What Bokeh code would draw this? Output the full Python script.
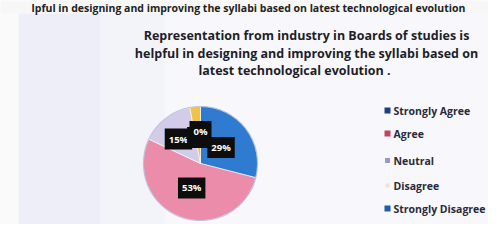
import numpy as np
from bokeh.plotting import figure
from bokeh.models import Range1d, ColumnDataSource
from bokeh.core.properties import value
from bokeh.embed import file_html
from bokeh.resources import INLINE

# ---- data ----
categories = ["Strongly Agree", "Agree", "Neutral", "Disagree", "Strongly Disagree"]
percents = [29, 53, 15, 3, 0]
pie_colors = ["#2f7bcf", "#ec8cab", "#d2cce8", "#f1c24a", "#1f5fa8"]
legend_colors = ["#1d3f86", "#c2425f", "#9c98c8", "#efe2dc", "#1f5fa8"]
title_lines = ["Representation from industry in Boards of studies is",
               "helpful in designing and improving the syllabi based on",
               "latest technological evolution ."]
top_text = "lpful in designing and improving the syllabi based on latest technological evolution"

W, H = 488, 224
p = figure(width=W, height=H, output_backend="svg", toolbar_location=None,
           x_range=Range1d(0, W), y_range=Range1d(0, H), min_border=0)
p.axis.visible = False
p.grid.visible = False
p.outline_line_color = None
p.background_fill_color = "#f8f8fc"
p.border_fill_color = "#f8f8fc"

# slide backdrop tints
p.quad(left=[0], right=[W], bottom=[H - 13], top=[H], fill_color="#f7f7f7", line_color=None)
p.quad(left=[18], right=[100], bottom=[0], top=[H - 13], fill_color="#eeeef9", line_color=None)
p.quad(left=[100], right=[165], bottom=[0], top=[H - 13], fill_color="#f3f3fa", line_color=None)
p.quad(left=[0], right=[18], bottom=[0], top=[H - 13], fill_color="#fafafa", line_color=None)

# top text from slide above (cut in the photo)
p.text(x=[248], y=[H], text=[top_text], text_font=value("Open Sans"),
       text_font_size="10.5px", text_font_style="bold", text_color="#222222",
       text_align="center", text_baseline="top")

# title
for i, line in enumerate(title_lines):
    xx = 306 if i < 2 else 294
    p.text(x=[xx], y=[H - 35 - i * 17.5], text=[line], text_font=value("Open Sans"),
           text_font_size="12.5px", text_font_style="bold", text_color="#1e1e28",
           text_align="center", text_baseline="middle")

# pie
cx, cy, R = 200, 61, 57
vals = np.array(percents, dtype=float)
frac = vals / vals.sum()
cum = np.concatenate([[0], np.cumsum(frac)])
start = np.pi / 2 - cum[:-1] * 2 * np.pi
end = np.pi / 2 - cum[1:] * 2 * np.pi
keep = vals > 0
src = ColumnDataSource(dict(start=start[keep], end=end[keep],
                            color=[c for c, k in zip(pie_colors, keep) if k]))
p.wedge(x=cx, y=cy, radius=R, start_angle="start", end_angle="end",
        direction="clock", fill_color="color", line_color="white", line_width=0.6,
        source=src)
p.circle(x=[cx], y=[cy], radius=R, fill_color=None, line_color="#8a98c4",
         line_width=1.2, line_alpha=0.5)

# data labels
mid = (cum[:-1] + cum[1:]) / 2 * 2 * np.pi
lr = np.array([26, 26, 36, 26, 26])
lx = cx + lr * np.sin(mid)
ly = cy + lr * np.cos(mid) + np.array([0, 0, -4, 0, 6])
labels = [f"{v}%" for v in percents]
order = [2, 3, 4, 0, 1]
lsrc = ColumnDataSource(dict(x=lx[order], y=ly[order], t=[labels[i] for i in order]))
p.text(x="x", y="y", text="t", source=lsrc, text_font=value("Open Sans"),
       text_font_size="9.5px", text_font_style="bold", text_color="white",
       text_align="center", text_baseline="middle",
       background_fill_color="#0d0d0d", padding=4)

# legend
leg_y = [114, 91, 64, 39, 16]
leg_sizes = [6, 6, 5, 4, 6]
p.scatter(x=[387] * 5, y=leg_y, marker="square", size=leg_sizes, fill_color=legend_colors,
          line_color=None)
p.text(x=[393] * 5, y=leg_y, text=categories, text_font=value("Open Sans"),
       text_font_size="10.5px", text_font_style="bold", text_color="#2a2a38",
       text_align="left", text_baseline="middle")

open("out.html", "w").write(file_html(p, INLINE))
